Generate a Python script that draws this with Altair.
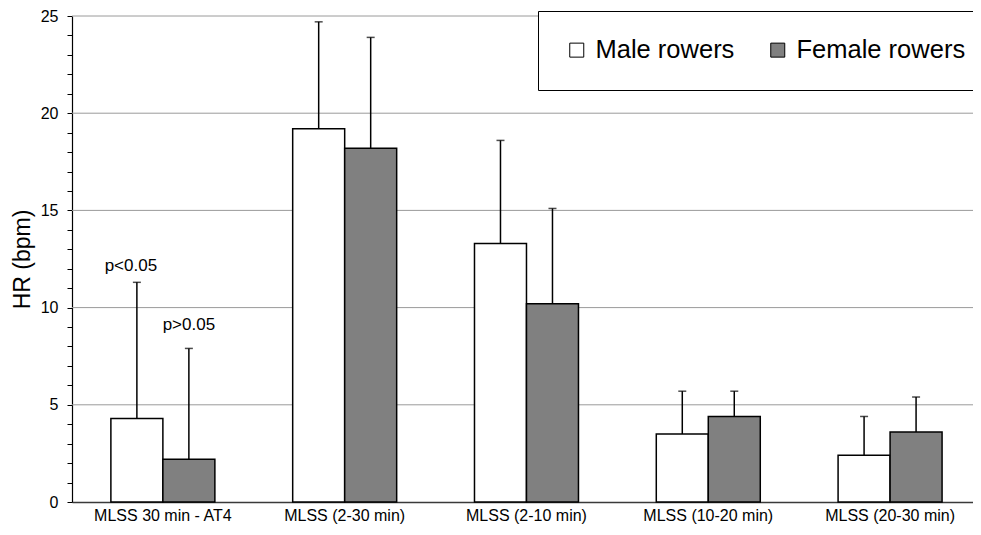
import altair as alt
import pandas as pd

# ---- data ----
categories = ["MLSS 30 min - AT4", "MLSS (2-30 min)", "MLSS (2-10 min)",
              "MLSS (10-20 min)", "MLSS (20-30 min)"]
series_names = ["Male rowers", "Female rowers"]
male_mean = [4.3, 19.2, 13.3, 3.5, 2.4]
female_mean = [2.2, 18.2, 10.2, 4.4, 3.6]
male_upper = [11.3, 24.7, 18.6, 5.7, 4.4]
female_upper = [7.9, 23.9, 15.1, 5.7, 5.4]
grid_values = [5, 10, 15, 20, 25]
y_ticks = list(range(0, 26))
ann_text = ["p<0.05", "p>0.05"]
ann_category = ["MLSS 30 min - AT4", "MLSS 30 min - AT4"]
ann_series = ["Male rowers", "Female rowers"]
ann_y = [11.9, 8.85]

rows = []
for i, c in enumerate(categories):
    rows.append({"cat": c, "series": series_names[0], "value": male_mean[i], "upper": male_upper[i]})
    rows.append({"cat": c, "series": series_names[1], "value": female_mean[i], "upper": female_upper[i]})
df = pd.DataFrame(rows)
grid_df = pd.DataFrame({"g": grid_values})
ann_df = pd.DataFrame({"cat": ann_category, "series": ann_series, "y": ann_y, "text": ann_text})

FONT = "Liberation Sans"
W, H = 901, 486

xscale = alt.Scale(domain=categories, paddingInner=0.428, paddingOuter=0.192, align=0.557)
xoff_scale = alt.Scale(domain=series_names, paddingInner=0, paddingOuter=0)
yscale = alt.Scale(domain=[0, 25], nice=False, zero=True)

x_axis = alt.Axis(title="", labelAngle=0, ticks=False, labelPadding=5,
                  labelFontSize=16, labelColor="black", labelFont=FONT,
                  domain=True, domainColor="#3a3a3a", domainWidth=1.5,
                  grid=False)
y_axis = alt.Axis(title="HR (bpm)", values=y_ticks,
                  labelExpr="datum.value % 5 == 0 ? datum.label : ''",
                  grid=False, domain=True, ticks=True, tickSize=5, tickWidth=1,
                  tickColor="black", domainColor="black", domainWidth=1.2,
                  labelPadding=9, labelFontSize=16, labelColor="black", labelFont=FONT,
                  titleFontSize=23, titleFontWeight="normal", titleColor="black",
                  titleFont=FONT, titleX=-50, titleY=H / 2, titleAlign="center",
                  titleBaseline="middle", titleAngle=270)

X = alt.X("cat:N", scale=xscale, axis=x_axis, sort=categories)
XO = alt.XOffset("series:N", scale=xoff_scale, sort=series_names)

grid = alt.Chart(grid_df).mark_rule(color="#9a9a9a", strokeWidth=1).encode(
    y=alt.Y("g:Q", scale=yscale, axis=y_axis)
)

bars = alt.Chart(df).mark_bar(stroke="black", strokeWidth=1.5).encode(
    x=X,
    xOffset=XO,
    y=alt.Y("value:Q", scale=yscale, axis=y_axis),
    fill=alt.Fill("series:N", sort=series_names,
                  scale=alt.Scale(domain=series_names, range=["#ffffff", "#808080"]),
                  legend=alt.Legend(title=None, orient="none", legendX=466, legendY=-5,
                                    direction="horizontal", symbolType="square",
                                    symbolSize=196, symbolStrokeColor="black",
                                    symbolStrokeWidth=1, labelFontSize=25.5,
                                    labelFont=FONT, labelColor="black",
                                    labelOffset=6, columnPadding=30, padding=26,
                                    strokeColor="black", fillColor="white",
                                    labelLimit=400)),
)

err = alt.Chart(df).mark_rule(color="black", strokeWidth=1.5).encode(
    x=X,
    xOffset=XO,
    y=alt.Y("value:Q", scale=yscale, axis=y_axis),
    y2="upper:Q",
)

caps = alt.Chart(df).mark_tick(color="black", size=8, thickness=1.5, orient="horizontal").encode(
    x=X,
    xOffset=XO,
    y=alt.Y("upper:Q", scale=yscale, axis=y_axis),
)

ann1 = alt.Chart(ann_df).transform_filter(alt.datum.series == "Male rowers").mark_text(
    fontSize=17, font=FONT, color="black", baseline="alphabetic", dx=-6
).encode(
    x=X,
    xOffset=XO,
    y=alt.Y("y:Q", scale=yscale, axis=y_axis),
    text="text:N",
)
ann2 = alt.Chart(ann_df).transform_filter(alt.datum.series == "Female rowers").mark_text(
    fontSize=17, font=FONT, color="black", baseline="alphabetic"
).encode(
    x=X,
    xOffset=XO,
    y=alt.Y("y:Q", scale=yscale, axis=y_axis),
    text="text:N",
)

chart = alt.layer(grid, bars, err, caps, ann1, ann2).properties(
    width=W, height=H,
    autosize=alt.AutoSizeParams(type="none"),
    padding={"left": 64, "top": 8, "right": 0, "bottom": 25},
    background="white",
).configure(font=FONT).configure_view(stroke=None)

chart.save("out.html", embed_options={"renderer": "svg", "actions": False})
